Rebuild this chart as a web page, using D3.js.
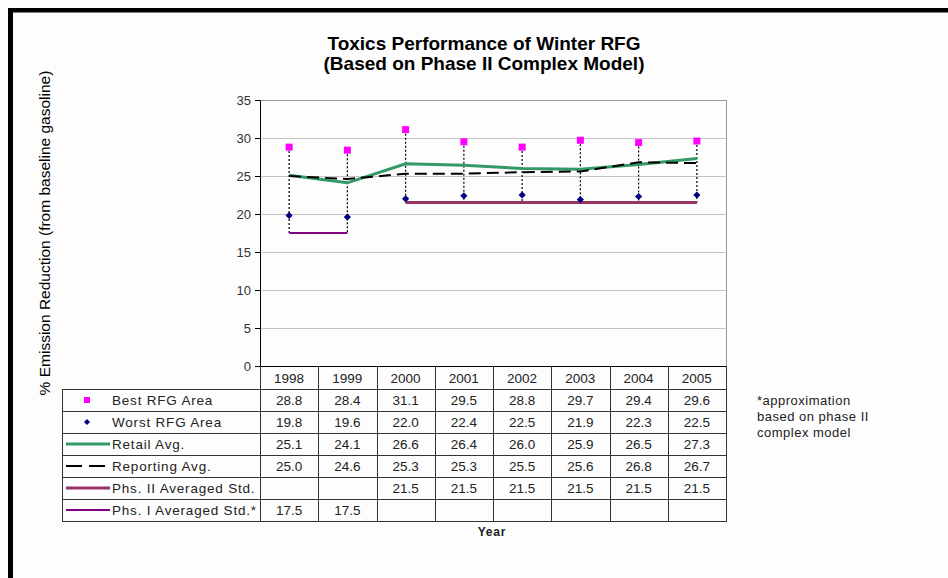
<!DOCTYPE html>
<html><head><meta charset="utf-8">
<script src="https://cdn.jsdelivr.net/npm/d3@7"></script>
<style>
html,body{margin:0;padding:0;background:#fdfdfd;}
svg{display:block;font-family:"Liberation Sans",Arial,sans-serif;}
</style></head>
<body>
<script>
const years = ["1998","1999","2000","2001","2002","2003","2004","2005"];
const bestRFG = [28.8,28.4,31.1,29.5,28.8,29.7,29.4,29.6];
const worstRFG = [19.8,19.6,22.0,22.4,22.5,21.9,22.3,22.5];
const retailAvg = [25.1,24.1,26.6,26.4,26.0,25.9,26.5,27.3];
const reportingAvg = [25.0,24.6,25.3,25.3,25.5,25.6,26.8,26.7];
const phs2Std = [null,null,21.5,21.5,21.5,21.5,21.5,21.5];
const phs1Std = [17.5,17.5,null,null,null,null,null,null];
const seriesNames = ["Best RFG Area","Worst RFG Area","Retail Avg.","Reporting Avg.","Phs. II Averaged Std.","Phs. I Averaged Std.*"];
const yTicks = [0,5,10,15,20,25,30,35];
const titleLines = ["Toxics Performance of Winter RFG","(Based on Phase II Complex Model)"];
const yLabel = "% Emission Reduction (from baseline gasoline)";
const xLabel = "Year";
const noteLines = ["*approximation","based on phase II","complex model"];

const W = 948, H = 578;
const svg = d3.select("body").append("svg").attr("width",W).attr("height",H);
svg.append("rect").attr("width",W).attr("height",H).attr("fill","#fdfdfd");

// frame
svg.append("rect").attr("x",8).attr("y",8).attr("width",W-8).attr("height",4.5).attr("fill","#000");
svg.append("rect").attr("x",8).attr("y",8).attr("width",5).attr("height",H-8).attr("fill","#000");

const plotL = 260, plotR = 726, plotT = 100, plotB = 366;
const x = d3.scaleBand().domain(years).range([plotL,plotR]);
const y = d3.scaleLinear().domain([0,35]).range([plotB,plotT]);
const cx = d => x(d) + x.bandwidth()/2;

// gridlines
svg.append("g").selectAll("line").data(yTicks.filter(t=>t>0)).join("line")
  .attr("x1",plotL).attr("x2",plotR).attr("y1",d=>y(d)).attr("y2",d=>y(d))
  .attr("stroke",d=>d===35?"#9a9a9a":"#c4c4c4").attr("stroke-width",1).attr("shape-rendering","crispEdges");
svg.append("line").attr("x1",plotR+0.5).attr("x2",plotR+0.5).attr("y1",plotT).attr("y2",plotB)
  .attr("stroke","#9a9a9a");

// y axis
const yAxis = d3.axisLeft(y).tickValues(yTicks).tickSize(5).tickPadding(4).tickFormat(d3.format("d"));
const gy = svg.append("g").attr("transform",`translate(${plotL},0)`).call(yAxis);
gy.select(".domain").attr("stroke","#000");
gy.selectAll(".tick line").attr("stroke","#000");
gy.selectAll(".tick text").attr("font-size","13px").attr("fill","#333").attr("font-family","Liberation Sans, Arial, sans-serif");

svg.append("line").attr("x1",plotL).attr("x2",plotR).attr("y1",plotB+0.5).attr("y2",plotB+0.5).attr("stroke","#000");

// high-low lines
const allSeries = [bestRFG,worstRFG,retailAvg,reportingAvg,phs2Std,phs1Std];
const hl = years.map((yr,i)=>{
  const vals = allSeries.map(s=>s[i]).filter(v=>v!=null);
  return {yr, hi:d3.max(vals), lo:d3.min(vals)};
});
svg.append("g").selectAll("line").data(hl).join("line")
  .attr("x1",d=>cx(d.yr)).attr("x2",d=>cx(d.yr))
  .attr("y1",d=>y(d.hi)).attr("y2",d=>y(d.lo))
  .attr("stroke","#000").attr("stroke-width",1.2).attr("stroke-dasharray","2,2");

const line = d3.line().defined(d=>d.v!=null).x(d=>cx(d.yr)).y(d=>y(d.v));
const toPts = arr => years.map((yr,i)=>({yr,v:arr[i]}));

svg.append("path").datum(toPts(phs1Std)).attr("d",line).attr("fill","none").attr("stroke","#800080").attr("stroke-width",2);
svg.append("path").datum(toPts(phs2Std)).attr("d",line).attr("fill","none").attr("stroke","#993366").attr("stroke-width",3);
svg.append("path").datum(toPts(retailAvg)).attr("d",line).attr("fill","none").attr("stroke","#339966").attr("stroke-width",3);
svg.append("path").datum(toPts(reportingAvg)).attr("d",line).attr("fill","none").attr("stroke","#000").attr("stroke-width",2).attr("stroke-dasharray","12,6");

// markers
svg.append("g").selectAll("rect").data(toPts(bestRFG)).join("rect")
  .attr("x",d=>cx(d.yr)-3.5).attr("y",d=>y(d.v)-3.5).attr("width",7).attr("height",7).attr("fill","#ff00ff");
const diamond = d3.symbol().type(d3.symbolSquare).size(26);
svg.append("g").selectAll("path").data(toPts(worstRFG)).join("path")
  .attr("transform",d=>`translate(${cx(d.yr)},${y(d.v)}) rotate(45)`).attr("d",diamond).attr("fill","#000080");

// title
svg.append("g").selectAll("text").data(titleLines).join("text")
  .attr("x",484).attr("y",(d,i)=>50+i*20).attr("text-anchor","middle")
  .attr("font-size","19px").attr("font-weight","bold").attr("fill","#000").text(d=>d);

// y label
svg.append("text").attr("transform","translate(50,233) rotate(-90)").attr("text-anchor","middle")
  .attr("font-size","15.5px").attr("fill","#000").text(yLabel);

// data table
const tableL = 62, headT = plotB, headB = 389, tableB = 521;
const rows = d3.scaleBand().domain(seriesNames).range([headB,tableB]);
const tbl = svg.append("g").attr("shape-rendering","crispEdges");
tbl.selectAll("line.hv").data(years.map(d=>x(d)).concat([plotR])).join("line")
  .attr("x1",d=>d+0.5).attr("x2",d=>d+0.5).attr("y1",headT).attr("y2",tableB).attr("stroke","#333");
tbl.append("line").attr("x1",tableL+0.5).attr("x2",tableL+0.5).attr("y1",headB).attr("y2",tableB).attr("stroke","#333");
tbl.selectAll("line.hr").data(seriesNames.map(d=>rows(d)).concat([tableB])).join("line")
  .attr("x1",tableL).attr("x2",plotR+1).attr("y1",d=>d+0.5).attr("y2",d=>d+0.5).attr("stroke","#333");

svg.append("g").selectAll("text").data(years).join("text")
  .attr("x",d=>cx(d)).attr("y",(headT+headB)/2+5).attr("text-anchor","middle")
  .attr("font-size","13.5px").attr("fill","#222").text(d=>d);

const fmt = d3.format(".1f");
const keyColors = ["#ff00ff","#000080","#339966","#000","#993366","#800080"];
seriesNames.forEach((name,ri)=>{
  const cy = rows(name)+rows.bandwidth()/2;
  const g = svg.append("g");
  g.append("text").attr("x",112).attr("y",cy+5).attr("font-size","13.5px").attr("letter-spacing","0.8px").attr("fill","#222").text(name);
  if(ri===0){
    g.append("rect").attr("x",84).attr("y",cy-3).attr("width",6).attr("height",6).attr("fill",keyColors[0]);
  } else if(ri===1){
    g.append("path").attr("transform",`translate(87,${cy}) rotate(45)`).attr("d",d3.symbol().type(d3.symbolSquare).size(18)).attr("fill",keyColors[1]);
  } else if(ri===3){
    g.append("line").attr("x1",66).attr("x2",110).attr("y1",cy).attr("y2",cy).attr("stroke","#000").attr("stroke-width",2).attr("stroke-dasharray","16,7");
  } else {
    g.append("line").attr("x1",66).attr("x2",110).attr("y1",cy).attr("y2",cy).attr("stroke",keyColors[ri]).attr("stroke-width",ri===5?2:3);
  }
  const arr = allSeries[ri];
  g.selectAll("text.v").data(years.map((yr,i)=>({yr,v:arr[i]})).filter(d=>d.v!=null)).join("text")
    .attr("x",d=>cx(d.yr)).attr("y",cy+5).attr("text-anchor","middle").attr("font-size","13.5px").attr("fill","#222")
    .text(d=>fmt(d.v));
});

svg.append("text").attr("x",492).attr("y",536).attr("text-anchor","middle").attr("font-size","12px").attr("font-weight","bold").attr("letter-spacing","0.8px").attr("fill","#222").text(xLabel);

svg.append("g").selectAll("text").data(noteLines).join("text")
  .attr("x",757).attr("y",(d,i)=>405+i*16).attr("font-size","13px").attr("letter-spacing","0.5px").attr("fill","#222").text(d=>d);
</script>
</body></html>
